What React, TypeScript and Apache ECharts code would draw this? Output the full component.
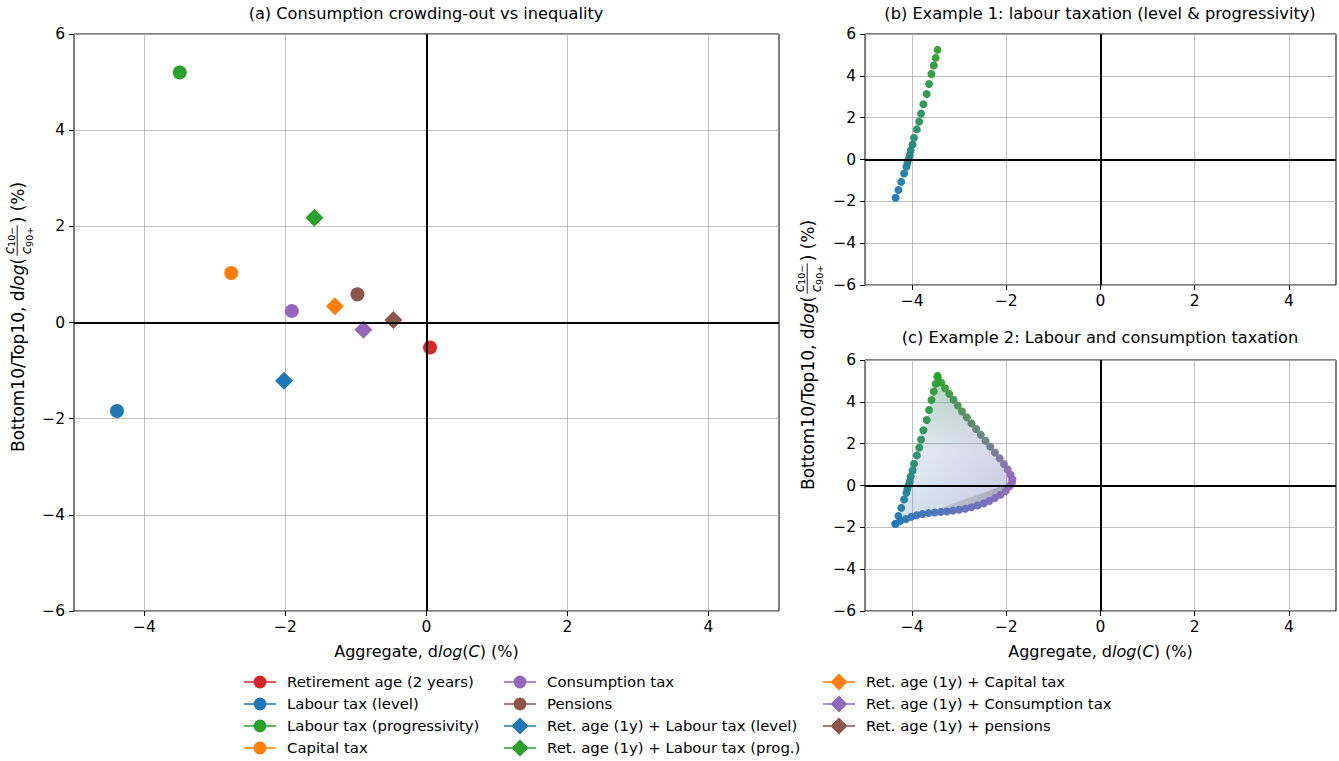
import React, { useEffect, useRef } from 'react';
import * as echarts from 'echarts';

const FONT = "'DejaVu Sans', sans-serif";
const FS_TICK = 15.5;
const FS_LEG = 14.9;
const FS_TITLE = 16.2;
const FS_NAME = 16;
const FS_YNAME = 17;

// ---- Panel (a) data ----
const names = [
  'Retirement age (2 years)',
  'Labour tax (level)',
  'Labour tax (progressivity)',
  'Capital tax',
  'Consumption tax',
  'Pensions',
  'Ret. age (1y) + Labour tax (level)',
  'Ret. age (1y) + Labour tax (prog.)',
  'Ret. age (1y) + Capital tax',
  'Ret. age (1y) + Consumption tax',
  'Ret. age (1y) + pensions',
];
const aggX = [0.05, -4.39, -3.5, -2.77, -1.91, -0.98, -2.02, -1.59, -1.3, -0.895, -0.47];
const ineqY = [-0.52, -1.84, 5.2, 1.03, 0.24, 0.585, -1.21, 2.18, 0.34, -0.15, 0.05];
const markers = ['circle', 'circle', 'circle', 'circle', 'circle', 'circle', 'diamond', 'diamond', 'diamond', 'diamond', 'diamond'];
const colors = ['#d62728', '#1f77b4', '#2ca02c', '#ff7f0e', '#9467bd', '#8c564b', '#1f77b4', '#2ca02c', '#ff7f0e', '#9467bd', '#8c564b'];

// ---- Panel (b)/(c): labour tax level -> progressivity path ----
const labourX = [-4.35, -4.29, -4.23, -4.17, -4.12, -4.1, -4.07, -4.05, -4.03, -3.99, -3.96, -3.9, -3.85, -3.81, -3.76, -3.69, -3.64, -3.59, -3.54, -3.5, -3.46];
const labourY = [-1.83, -1.46, -1.07, -0.67, -0.35, -0.16, 0.03, 0.19, 0.43, 0.72, 1.04, 1.44, 1.81, 2.2, 2.64, 3.13, 3.61, 4.09, 4.49, 4.86, 5.24];

// ---- Panel (c): progressivity -> consumption tax edge ----
const progConsX = [-3.46, -3.38, -3.3, -3.21, -3.12, -3.03, -2.94, -2.84, -2.74, -2.64, -2.54, -2.44, -2.34, -2.24, -2.14, -2.05, -1.97, -1.91, -1.87];
const progConsY = [5.18, 4.92, 4.65, 4.38, 4.1, 3.82, 3.54, 3.26, 2.98, 2.7, 2.42, 2.14, 1.86, 1.58, 1.3, 1.03, 0.77, 0.52, 0.3];

// ---- Panel (c): level -> consumption tax edge ----
const levelConsX = [-4.36, -4.25, -4.13, -4.02, -3.9, -3.78, -3.65, -3.52, -3.39, -3.26, -3.13, -3.0, -2.87, -2.74, -2.61, -2.48, -2.36, -2.24, -2.12, -2.01, -1.93, -1.88];
const levelConsY = [-1.84, -1.7, -1.6, -1.5, -1.42, -1.36, -1.32, -1.29, -1.27, -1.24, -1.2, -1.16, -1.11, -1.04, -0.96, -0.86, -0.74, -0.6, -0.44, -0.26, -0.04, 0.14];

const X_TICKS = [-4, -2, 0, 2, 4];

const BLUE = '#1f77b4';
const GREEN = '#2ca02c';
const PURPLE = '#9467bd';

function hex(c: string) {
  return [parseInt(c.slice(1, 3), 16), parseInt(c.slice(3, 5), 16), parseInt(c.slice(5, 7), 16)];
}
function mix(a: string, b: string, t: number) {
  const A = hex(a), B = hex(b);
  const r = A.map((v, i) => Math.round(v + (B[i] - v) * t));
  return `rgb(${r[0]},${r[1]},${r[2]})`;
}
const fmt = (v: number) => (v < 0 ? '\u2212' + Math.abs(v) : String(v));

function measure(text: string, font: string) {
  const c = document.createElement('canvas').getContext('2d')!;
  c.font = font;
  return c.measureText(text).width;
}

// y-axis label, drawn rotated; starts (bottom end) at (cx, startY)
function yLabel(cx: number, startY: number) {
  const FS = FS_YNAME;
  const base = `${FS}px 'DejaVu Sans'`;
  const ital = `italic ${FS}px 'DejaVu Sans'`;
  const cSize = 13.5;
  const sSize = 9.5;
  const pA = 'Bottom10/Top10, d';
  const pLog = 'log';
  const pOpen = '(';
  const numSub = '10\u2212';
  const denSub = '90+';
  const pB = ') (%)';
  const wA = measure(pA, base);
  const wLog = measure(pLog, ital);
  const wOpen = measure(pOpen, base);
  const wC = measure('c', `italic ${cSize}px 'DejaVu Sans'`);
  const wFrac = wC + Math.max(measure(numSub, `${sSize}px 'DejaVu Sans'`), measure(denSub, `${sSize}px 'DejaVu Sans'`)) + 4;
  let x = 0;
  const mk = (text: string, xx: number, opts: any = {}) => ({
    type: 'text',
    x: xx,
    y: opts.y ?? 0,
    style: {
      text,
      fontSize: opts.size ?? FS,
      fontFamily: FONT,
      fontStyle: opts.italic ? 'italic' : 'normal',
      fill: '#000',
      align: opts.align ?? 'left',
      verticalAlign: opts.va ?? 'middle',
      textAlign: opts.align ?? 'left',
      textVerticalAlign: opts.va ?? 'middle',
      rich: opts.rich,
    },
  });
  const rich = {
    c: { fontSize: cSize, fontStyle: 'italic', fontFamily: FONT, fill: '#000', color: '#000', lineHeight: 16, verticalAlign: 'middle' },
    s: { fontSize: sSize, fontFamily: FONT, fill: '#000', color: '#000', lineHeight: 9.5, verticalAlign: 'bottom' },
  };
  const children: any[] = [];
  children.push(mk(pA, x));
  x += wA;
  children.push(mk(pLog, x, { italic: true }));
  x += wLog;
  children.push(mk(pOpen, x));
  x += wOpen + 1.5;
  const fc = x + wFrac / 2;
  children.push(mk(`{c|c}{s|${numSub}}`, fc, { align: 'center', va: 'bottom', y: -1.5, rich }));
  children.push(mk(`{c|c}{s|${denSub}}`, fc, { align: 'center', va: 'top', y: 0, rich }));
  children.push({
    type: 'line',
    shape: { x1: x + 0.5, y1: -0.8, x2: x + wFrac - 0.5, y2: -0.8 },
    style: { stroke: '#000', lineWidth: 0.9 },
  });
  x += wFrac + 1.5;
  children.push(mk(pB, x));
  return { type: 'group', x: cx, y: startY, rotation: Math.PI / 2, silent: true, children };
}

const CIRCLE_ICON = 'path://M0,0L0,0M38,18L38,18M0,8.2H32V9.8H0ZM22.5,9A6.5,6.5 0 0 1 9.5,9A6.5,6.5 0 0 1 22.5,9Z';
const DIAMOND_ICON = 'path://M0,0L0,0M38,18L38,18M0,8.2H32V9.8H0ZM16,0.5L24.5,9L16,17.5L7.5,9Z';

function xAxisCfg(gridIndex: number, withName: boolean) {
  return {
    type: 'value',
    gridIndex,
    min: -5,
    max: 5,
    axisLine: { show: false, onZero: false },
    axisTick: { show: true, customValues: X_TICKS, length: 5, lineStyle: { color: '#000', width: 1 } },
    axisLabel: { customValues: X_TICKS, formatter: fmt, fontSize: FS_TICK, color: '#000', fontFamily: FONT, margin: 8 },
    splitLine: { show: true, lineStyle: { color: '#b0b0b0', width: 0.8 } },
    name: withName ? 'Aggregate, d{i|log}({i|C}) (%)' : '',
    nameLocation: 'middle',
    nameGap: 32,
    nameTextStyle: {
      fontSize: FS_NAME,
      color: '#000',
      fontFamily: FONT,
      rich: { i: { fontStyle: 'italic', fontSize: FS_NAME, fontFamily: FONT, color: '#000' } },
    },
  };
}
function yAxisCfg(gridIndex: number) {
  return {
    type: 'value',
    gridIndex,
    min: -6,
    max: 6,
    interval: 2,
    axisLine: { show: false, onZero: false },
    axisTick: { show: true, length: 5, lineStyle: { color: '#000', width: 1 } },
    axisLabel: { formatter: fmt, fontSize: FS_TICK, color: '#000', fontFamily: FONT, margin: 9 },
    splitLine: { show: true, lineStyle: { color: '#b0b0b0', width: 0.8 } },
  };
}

function zeroLines(idx: number) {
  return {
    type: 'scatter',
    xAxisIndex: idx,
    yAxisIndex: idx,
    data: [],
    silent: true,
    z: 2,
    markLine: {
      silent: true,
      symbol: ['none', 'none'],
      label: { show: false },
      lineStyle: { color: '#000', width: 2, type: 'solid' },
      data: [{ xAxis: 0 }, { yAxis: 0 }],
    },
  };
}

function edgeSeries(idx: number, xs: number[], ys: number[], c1: string, c2: string) {
  const n = xs.length;
  return {
    type: 'scatter',
    xAxisIndex: idx,
    yAxisIndex: idx,
    symbol: 'circle',
    symbolSize: 8,
    silent: true,
    z: 4,
    data: xs.map((x, i) => [x, ys[i]]),
    itemStyle: { color: (p: any) => mix(c1, c2, p.dataIndex / (n - 1)), opacity: 0.95 },
  };
}

export default function App() {
  const ref = useRef<HTMLDivElement>(null);
  useEffect(() => {
    const chart = echarts.init(ref.current!, null, { renderer: 'svg' });

    const polyX = [...labourX, ...progConsX.slice(1), ...levelConsX.slice().reverse()];
    const polyY = [...labourY, ...progConsY.slice(1), ...levelConsY.slice().reverse()];

    const mainSeries = names.map((name, i) => ({
      type: 'scatter',
      name,
      xAxisIndex: 0,
      yAxisIndex: 0,
      symbol: markers[i],
      symbolSize: markers[i] === 'circle' ? 14 : 18,
      itemStyle: { color: colors[i], opacity: 1 },
      data: [[aggX[i], ineqY[i]]],
      z: 4,
    }));

    const legendBase = {
      orient: 'vertical',
      top: 673,
      itemWidth: 38,
      itemHeight: 18,
      itemGap: 4,
      padding: 0,
      selectedMode: false,
      itemStyle: { opacity: 1 },
      textStyle: { fontSize: FS_LEG, fontFamily: FONT, color: '#000' },
    };
    const legItem = (n: string) => ({
      name: n,
      icon: markers[names.indexOf(n)] === 'circle' ? CIRCLE_ICON : DIAMOND_ICON,
      itemStyle: { color: colors[names.indexOf(n)], opacity: 1 },
    });

    const option: any = {
      animation: false,
      backgroundColor: '#fff',
      textStyle: { fontFamily: FONT },
      title: [
        { text: '(a) Consumption crowding-out vs inequality', left: 426, top: 5, textAlign: 'center', padding: 0 },
        { text: '(b) Example 1: labour taxation (level & progressivity)', left: 1100, top: 5, textAlign: 'center', padding: 0 },
        { text: '(c) Example 2: Labour and consumption taxation', left: 1100, top: 329, textAlign: 'center', padding: 0 },
      ].map((t) => ({ ...t, textStyle: { fontSize: FS_TITLE, fontWeight: 'normal', color: '#000', fontFamily: FONT } })),
      grid: [
        { left: 74, top: 34, width: 705, height: 577, show: true, borderColor: '#000', borderWidth: 1, backgroundColor: 'transparent' },
        { left: 865, top: 34, width: 471, height: 251, show: true, borderColor: '#000', borderWidth: 1, backgroundColor: 'transparent' },
        { left: 865, top: 360, width: 471, height: 251, show: true, borderColor: '#000', borderWidth: 1, backgroundColor: 'transparent' },
      ],
      xAxis: [xAxisCfg(0, true), xAxisCfg(1, false), xAxisCfg(2, true)],
      yAxis: [yAxisCfg(0), yAxisCfg(1), yAxisCfg(2)],
      legend: [
        { ...legendBase, left: 244, data: names.slice(0, 4).map(legItem) },
        { ...legendBase, left: 504, data: names.slice(4, 8).map(legItem) },
        { ...legendBase, left: 823, data: names.slice(8, 11).map(legItem) },
      ],
      graphic: [yLabel(18, 452), yLabel(808, 490)],
      series: [
        zeroLines(0),
        ...mainSeries,
        zeroLines(1),
        edgeSeries(1, labourX, labourY, BLUE, GREEN),
        {
          type: 'custom',
          xAxisIndex: 2,
          yAxisIndex: 2,
          silent: true,
          z: 1,
          data: [[-3, 0]],
          renderItem: (_p: any, api: any) => {
            const pts = polyX.map((x, i) => api.coord([x, polyY[i]]));
            const band = levelConsX.map((x, i) => api.coord([x, levelConsY[i]]));
            return {
              type: 'group',
              children: [
                {
                  type: 'polygon',
                  shape: { points: pts },
                  style: {
                    fill: new echarts.graphic.LinearGradient(0, 0, 0, 1, [
                      { offset: 0, color: 'rgba(44,160,44,0.34)' },
                      { offset: 0.5, color: 'rgba(70,150,170,0.14)' },
                      { offset: 1, color: 'rgba(31,119,180,0.2)' },
                    ]),
                  },
                },
                {
                  type: 'polygon',
                  shape: { points: pts },
                  style: {
                    fill: new echarts.graphic.LinearGradient(0, 0, 1, 0, [
                      { offset: 0, color: 'rgba(148,103,189,0)' },
                      { offset: 1, color: 'rgba(148,103,189,0.22)' },
                    ]),
                  },
                },
                {
                  type: 'polygon',
                  shape: { points: band },
                  style: {
                    fill: new echarts.graphic.LinearGradient(0, 0, 1, 0, [
                      { offset: 0, color: 'rgba(110,110,110,0.03)' },
                      { offset: 1, color: 'rgba(110,110,110,0.4)' },
                    ]),
                  },
                },
              ],
            };
          },
        },
        zeroLines(2),
        edgeSeries(2, labourX, labourY, BLUE, GREEN),
        edgeSeries(2, progConsX, progConsY, GREEN, PURPLE),
        edgeSeries(2, levelConsX, levelConsY, BLUE, PURPLE),
      ],
    };
    chart.setOption(option);
    return () => chart.dispose();
  }, []);
  return <div ref={ref} style={{ position: 'fixed', left: 0, top: 0, width: 1339, height: 761 }} />;
}
